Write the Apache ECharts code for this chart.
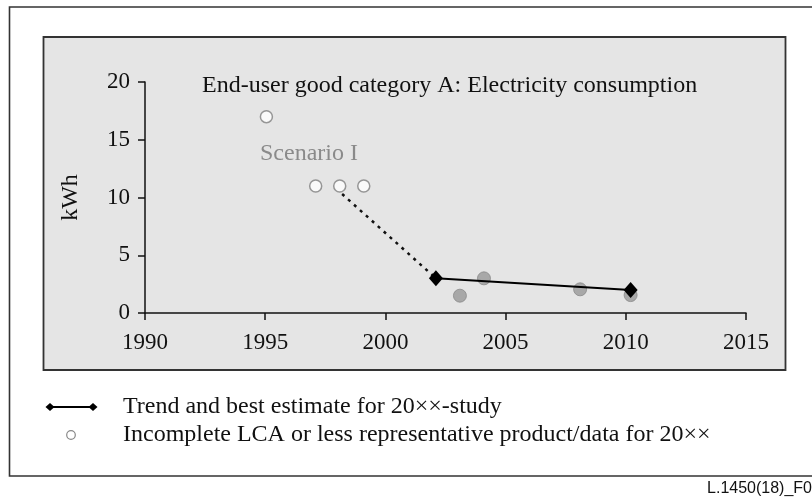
<!DOCTYPE html>
<html><head><meta charset="utf-8">
<script src="https://cdn.jsdelivr.net/npm/echarts@6/dist/echarts.min.js"></script>
<style>html,body{margin:0;padding:0;background:#fff}#c{width:812px;height:499px}</style>
</head><body><div id="c"></div>
<script>
var xTicks = [1990, 1995, 2000, 2005, 2010, 2015];
var yTicks = [0, 5, 10, 15, 20];
var openYears = [1995.05, 1997.1, 1998.1, 1999.1];
var openKwh = [17, 11, 11, 11];
var grayYears = [2003.1, 2004.1, 2008.1, 2010.2];
var grayKwh = [1.5, 3, 2.05, 1.55];
var trendYears = [2002.1, 2010.2];
var trendKwh = [3, 2];
var extrapYears = [1998.2, 2002.1];
var extrapKwh = [10.3, 3];
var titleText = 'End-user good category A: Electricity consumption';
var scenarioText = 'Scenario I';
var legendTexts = ['Trend and best estimate for 20\u00d7\u00d7-study', 'Incomplete LCA or less representative product/data for 20\u00d7\u00d7'];
var footerText = 'L.1450(18)_F0';

function pairs(xs, ys){ return xs.map(function(x,i){ return [x, ys[i]]; }); }
var serif = '"Liberation Serif","Times New Roman",serif';
var chart = echarts.init(document.getElementById('c'));
chart.setOption({
  animation: false,
  textStyle: { fontFamily: serif },
  title: [
    { text: titleText, left: 197, top: 69, textStyle: { fontFamily: serif, fontSize: 24, fontWeight: 'normal', color: '#111' } },
    { text: scenarioText, left: 255, top: 137, textStyle: { fontFamily: serif, fontSize: 24, fontWeight: 'normal', color: '#8a8a8a' } }
  ],
  grid: { left: 145, right: 66, top: 82, bottom: 186 },
  xAxis: {
    type: 'value', min: xTicks[0], max: xTicks[xTicks.length-1], interval: 5,
    axisLine: { lineStyle: { color: '#111', width: 1.5 } },
    axisTick: { show: true, length: 7, lineStyle: { color: '#111', width: 1.5 } },
    axisLabel: { color: '#111', fontSize: 23, fontFamily: serif, margin: 18, formatter: function(v){ return String(v); } },
    splitLine: { show: false }
  },
  yAxis: {
    type: 'value', min: yTicks[0], max: yTicks[yTicks.length-1], interval: 5,
    name: 'kWh', nameLocation: 'middle', nameGap: 62, nameRotate: 90,
    nameTextStyle: { color: '#111', fontSize: 24, fontFamily: serif },
    axisLine: { show: true, lineStyle: { color: '#111', width: 1.5 } },
    axisTick: { show: true, length: 7, lineStyle: { color: '#111', width: 1.5 } },
    axisLabel: { color: '#111', fontSize: 23, fontFamily: serif, margin: 15, formatter: function(v){ return String(v); } },
    splitLine: { show: false }
  },
  graphic: [
    { type: 'rect', z: -10, shape: { x: 9.5, y: 7, width: 820, height: 469 }, style: { fill: '#fff', stroke: '#333', lineWidth: 1.6 } },
    { type: 'rect', z: -9, shape: { x: 43.5, y: 37, width: 742, height: 333 }, style: { fill: '#e5e5e5', stroke: '#333', lineWidth: 1.8 } },
    { type: 'line', shape: { x1: 50, y1: 407, x2: 93, y2: 407 }, style: { stroke: '#000', lineWidth: 2 } },
    { type: 'polygon', shape: { points: [[50,403],[54.5,407],[50,411],[45.5,407]] }, style: { fill: '#000' } },
    { type: 'polygon', shape: { points: [[93,403],[97.5,407],[93,411],[88.5,407]] }, style: { fill: '#000' } },
    { type: 'circle', shape: { cx: 71, cy: 435, r: 4.3 }, style: { fill: '#fff', stroke: '#888', lineWidth: 1.2 } },
    { type: 'text', left: 123, top: 395, style: { text: legendTexts[0], font: '24px ' + serif, fill: '#111' } },
    { type: 'text', left: 123, top: 423, style: { text: legendTexts[1], font: '24px ' + serif, fill: '#111' } },
    { type: 'text', right: 0, top: 481, style: { text: footerText, font: '16px "Liberation Sans",Arial,sans-serif', fill: '#111' } }
  ],
  series: [
    { name: 'extrapolation', type: 'line', data: pairs(extrapYears, extrapKwh), symbol: 'none',
      lineStyle: { color: '#111', width: 2.5, type: [3, 5] }, z: 3 },
    { name: 'gray', type: 'scatter', data: pairs(grayYears, grayKwh), symbol: 'circle', symbolSize: 13,
      itemStyle: { color: '#999', borderColor: '#8a8a8a', borderWidth: 1 }, z: 2 },
    { name: 'trend', type: 'line', data: pairs(trendYears, trendKwh), symbol: 'diamond', symbolSize: [14, 16],
      lineStyle: { color: '#000', width: 2 }, itemStyle: { color: '#000' }, z: 4 },
    { name: 'open', type: 'scatter', data: pairs(openYears, openKwh), symbol: 'circle', symbolSize: 12,
      itemStyle: { color: '#fff', borderColor: '#808080', borderWidth: 1.5 }, z: 3 }
  ]
});
</script></body></html>
